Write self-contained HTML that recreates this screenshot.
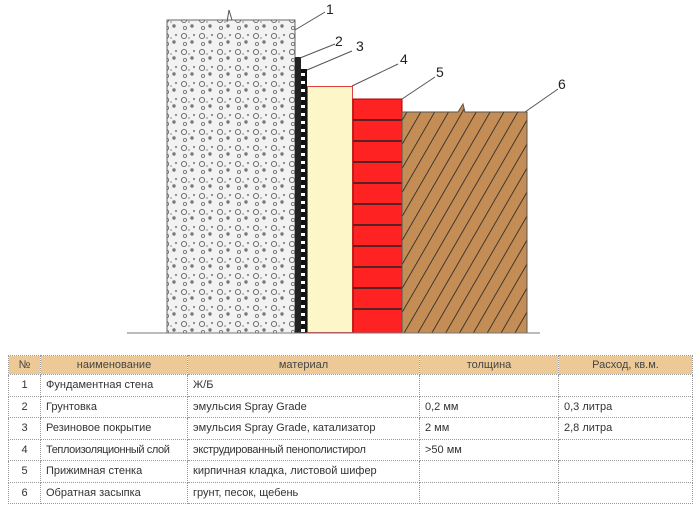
<!DOCTYPE html>
<html><head><meta charset="utf-8"><style>
body{margin:0;background:#fff;width:700px;height:509px;overflow:hidden;font-family:"Liberation Sans","DejaVu Sans",sans-serif}
table{position:absolute;left:8px;top:355px;width:685px;border-collapse:collapse;font-size:11px;color:#333;table-layout:fixed}
td{border:1px dotted #999;height:20.5px;padding:0 5px;white-space:nowrap;overflow:hidden}
tr.h td{background:#ecc996;text-align:center;height:18px;color:#444}
td.n{text-align:center;padding:0}
</style></head><body>
<svg width="700" height="350" style="position:absolute;left:0;top:0">
<defs>
<pattern id="conc" width="18" height="16" patternUnits="userSpaceOnUse">
<rect width="18" height="16" fill="#f2f2f2"/>
<circle cx="4" cy="4" r="2.6" fill="none" stroke="#666" stroke-width="0.9"/>
<circle cx="12" cy="10" r="1.7" fill="#777"/>
<circle cx="14" cy="3" r="1.1" fill="#888"/>
<circle cx="5" cy="12" r="1.6" fill="none" stroke="#777" stroke-width="0.9"/>
<circle cx="9" cy="6" r="0.9" fill="#999"/>
</pattern>
<pattern id="chk" width="6" height="8" patternUnits="userSpaceOnUse">
<rect width="6" height="8" fill="#111"/><rect x="1" y="1" width="4" height="3" fill="#fff"/>
</pattern>
<pattern id="hatch" width="12" height="12" patternUnits="userSpaceOnUse" patternTransform="rotate(30)">
<rect width="12" height="12" fill="#c38d55"/><line x1="0" y1="0" x2="0" y2="12" stroke="#222" stroke-width="1.6"/>
</pattern>
</defs>
<rect x="167" y="20" width="128" height="313" fill="url(#conc)" stroke="#666"/>
<rect x="295" y="57" width="6" height="276" fill="#222"/>
<rect x="301" y="69" width="6" height="264" fill="url(#chk)"/>
<rect x="307.5" y="86.5" width="45" height="246" fill="#fdf6c8" stroke="#e04040"/>
<rect x="353" y="99" width="49" height="234" fill="#f22"/>
<g stroke="#222" stroke-width="1.5">
<line x1="353" y1="120" x2="402" y2="120"/><line x1="353" y1="141" x2="402" y2="141"/><line x1="353" y1="162" x2="402" y2="162"/><line x1="353" y1="183" x2="402" y2="183"/><line x1="353" y1="204" x2="402" y2="204"/><line x1="353" y1="225" x2="402" y2="225"/><line x1="353" y1="246" x2="402" y2="246"/><line x1="353" y1="267" x2="402" y2="267"/><line x1="353" y1="288" x2="402" y2="288"/><line x1="353" y1="309" x2="402" y2="309"/>
</g>
<rect x="353" y="99" width="49" height="234" fill="none" stroke="#a00"/>
<path d="M402 112 L458 112 L463 104 L465 112 L527 112 L527 333 L402 333 Z" fill="url(#hatch)" stroke="#555"/>
<line x1="127" y1="333" x2="540" y2="333" stroke="#777"/>
<g stroke="#555" stroke-width="1" fill="none">
<line x1="295" y1="30" x2="325" y2="12"/><line x1="300" y1="58" x2="335" y2="44"/><line x1="307" y1="70" x2="352" y2="51"/><line x1="352" y1="86" x2="398" y2="64"/><line x1="402" y1="99" x2="435" y2="77"/><line x1="525" y1="112" x2="558" y2="89"/>
<path d="M227 22 L229 10 L232 20"/>
</g>
<g font-size="14" fill="#222">
<text x="326" y="14">1</text><text x="335" y="46">2</text><text x="356" y="51">3</text><text x="400" y="64">4</text><text x="436" y="77">5</text><text x="558" y="89">6</text>
</g>
</svg>
<table>
<colgroup><col style="width:32px"><col style="width:147px"><col style="width:232px"><col style="width:139px"><col></colgroup>
<tr class="h"><td class="n">№</td><td>наименование</td><td>материал</td><td>толщина</td><td>Расход, кв.м.</td></tr>
<tr><td class="n">1</td><td>Фундаментная стена</td><td>Ж/Б</td><td></td><td></td></tr>
<tr><td class="n">2</td><td>Грунтовка</td><td>эмульсия Spray Grade</td><td>0,2 мм</td><td>0,3 литра</td></tr>
<tr><td class="n">3</td><td>Резиновое покрытие</td><td>эмульсия Spray Grade, катализатор</td><td>2 мм</td><td>2,8 литра</td></tr>
<tr><td class="n">4</td><td style="letter-spacing:-0.4px">Теплоизоляционный слой</td><td style="letter-spacing:-0.3px">экструдированный пенополистирол</td><td>&gt;50 мм</td><td></td></tr>
<tr><td class="n">5</td><td>Прижимная стенка</td><td>кирпичная кладка, листовой шифер</td><td></td><td></td></tr>
<tr><td class="n">6</td><td>Обратная засыпка</td><td>грунт, песок, щебень</td><td></td><td></td></tr>
</table>
</body></html>
